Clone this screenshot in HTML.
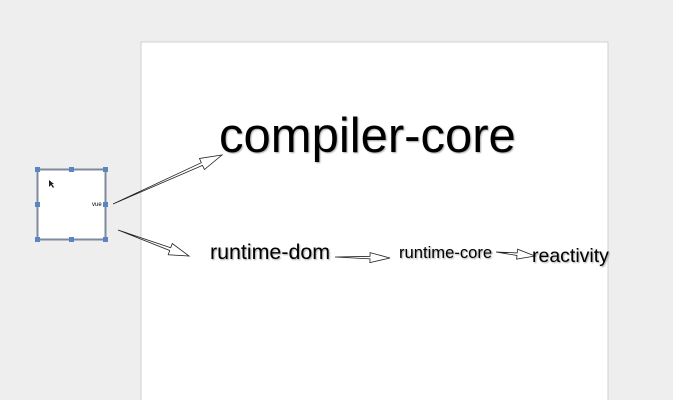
<!DOCTYPE html>
<html><head><style>
html,body{margin:0;padding:0;width:673px;height:400px;overflow:hidden;background:#eeeeee;}
svg{position:absolute;left:0;top:0;}
text{font-family:"Liberation Sans",sans-serif;fill:#000;}
</style></head><body>
<svg width="673" height="400" xmlns="http://www.w3.org/2000/svg">
<defs><filter id="sh" x="-5%" y="-20%" width="110%" height="140%"><feDropShadow dx="1" dy="1" stdDeviation="0.8" flood-color="#000" flood-opacity="0.35"/></filter></defs>
<rect x="141" y="42" width="467" height="370" fill="#fff" stroke="#d0d0d0" stroke-width="1"/>
<rect x="37.5" y="169.5" width="68" height="70" fill="#fff" stroke="#7f8a9c" stroke-width="2"/>
<g fill="#5b84c4">
<rect x="35" y="167" width="5" height="5"/><rect x="69" y="167" width="5" height="5"/><rect x="103" y="167" width="5" height="5"/>
<rect x="35" y="202" width="5" height="5"/><rect x="103" y="202" width="5" height="5"/>
<rect x="35" y="237" width="5" height="5"/><rect x="69" y="237" width="5" height="5"/><rect x="103" y="237" width="5" height="5"/>
</g>
<text x="92" y="206" font-size="6" fill="#444">vue</text>
<path d="M49 180 L49 187 L51 185 L53 188 L54 187 L52 184 L54 184 Z" fill="#222"/>
<g id="arrows" fill="none" stroke="#222" stroke-width="0.8"></g>
<g filter="url(#sh)">
<text x="219" y="152" font-size="49">compiler-core</text>
<text x="210" y="259" font-size="21.4">runtime-dom</text>
<text x="399" y="258" font-size="16.6">runtime-core</text>
<text x="532" y="262" font-size="19.5">reactivity</text>
</g>
</svg>
<script>
function arrow(x1,y1,x2,y2,hl,hw,sw){
 var dx=x2-x1,dy=y2-y1,L=Math.hypot(dx,dy),ux=dx/L,uy=dy/L,nx=-uy,ny=ux;
 var bx=x2-ux*hl,by=y2-uy*hl;
 function p(x,y){return x.toFixed(1)+" "+y.toFixed(1);}
 var d="M"+p(x1,y1)+" L"+p(bx+nx*sw,by+ny*sw)+" L"+p(bx+nx*hw,by+ny*hw)+" L"+p(x2,y2)+" L"+p(bx-nx*hw,by-ny*hw)+" L"+p(bx-nx*sw,by-ny*sw)+" Z";
 var e=document.createElementNS("http://www.w3.org/2000/svg","path");
 e.setAttribute("d",d);e.setAttribute("fill","#fff");
 document.getElementById("arrows").appendChild(e);
}
arrow(113,204,222,155,22,6,1.5);
arrow(118,230,189,256,20,6,1.5);
arrow(335,257,390,258,20,5,1.3);
arrow(496,252,535,256,18,5,1.3);
</script>
</body></html>
